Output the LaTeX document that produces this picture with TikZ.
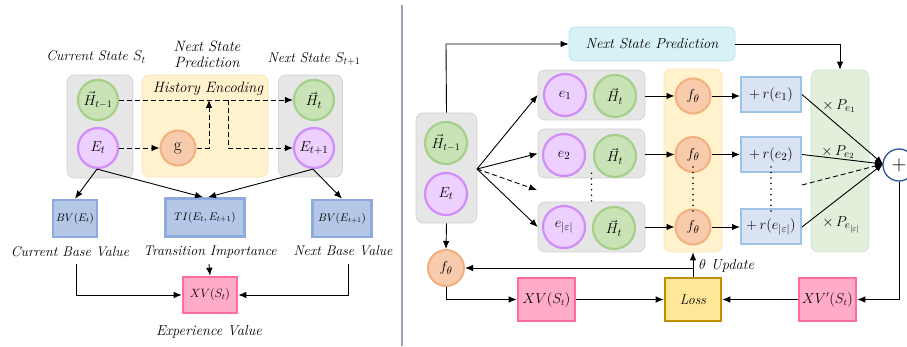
\documentclass[tikz,border=0pt]{standalone}
\usepackage{amsmath}
\usetikzlibrary{arrows.meta}
\definecolor{grayfill}{HTML}{E6E6E6}
\definecolor{grayline}{HTML}{D2D2D2}
\definecolor{yelfill}{HTML}{FFF2CC}
\definecolor{yelline}{HTML}{F7E4B0}
\definecolor{grnfill}{HTML}{C9E3B6}
\definecolor{grnline}{HTML}{A6D08A}
\definecolor{purfill}{HTML}{EDD0FF}
\definecolor{purline}{HTML}{D08CFA}
\definecolor{orfill}{HTML}{F8CBAD}
\definecolor{orline}{HTML}{F2B07F}
\definecolor{bvfill}{HTML}{B4C7E7}
\definecolor{bvline}{HTML}{8FAADC}
\definecolor{pkfill}{HTML}{FFABC9}
\definecolor{pkline}{HTML}{FF6C9C}
\definecolor{rfill}{HTML}{DAE3F3}
\definecolor{rline}{HTML}{9DC3E6}
\definecolor{cyfill}{HTML}{D7F2F7}
\definecolor{cyline}{HTML}{BEE3EC}
\definecolor{gcfill}{HTML}{E2EFDA}
\definecolor{gcline}{HTML}{D3E5C8}
\definecolor{lsfill}{HTML}{FFE699}
\definecolor{lsline}{HTML}{BF9000}
\definecolor{divider}{HTML}{99A3B5}
\definecolor{plusline}{HTML}{2F5597}
\begin{document}
\begin{tikzpicture}[x=1pt,y=-1pt,
  font=\fontsize{13}{15}\selectfont,
  graybox/.style={rectangle, rounded corners=7pt, fill=grayfill, draw=grayline, line width=0.6pt, inner sep=0pt},
  yelbox/.style={rectangle, rounded corners=7pt, fill=yelfill, draw=yelline, line width=0.6pt, inner sep=0pt},
  gcbox/.style={rectangle, rounded corners=7pt, fill=gcfill, draw=gcline, line width=0.6pt, inner sep=0pt},
  cybox/.style={rectangle, rounded corners=6pt, fill=cyfill, draw=cyline, line width=0.8pt, inner sep=0pt},
  gcirc/.style={circle, fill=grnfill, draw=grnline, line width=2.2pt, inner sep=0pt},
  pcirc/.style={circle, fill=purfill, draw=purline, line width=2.2pt, inner sep=0pt},
  ocirc/.style={circle, fill=orfill, draw=orline, line width=2pt, inner sep=0pt},
  bvbox/.style={rectangle, fill=bvfill, draw=bvline, line width=2.6pt, inner sep=0pt},
  pkbox/.style={rectangle, fill=pkfill, draw=pkline, line width=2.6pt, inner sep=0pt},
  rbox/.style={rectangle, fill=rfill, draw=rline, line width=2pt, inner sep=0pt},
  lossbox/.style={rectangle, fill=lsfill, draw=lsline, line width=2.6pt, inner sep=0pt},
  lbl/.style={inner sep=0pt, font=\fontsize{14}{16}\selectfont\itshape},
  big/.style={font=\fontsize{15}{16}\selectfont},
  arr/.style={-{Latex[length=8pt,width=6.5pt]}, line width=0.9pt},
  darr/.style={arr, dash pattern=on 5pt off 3pt},
  dotsty/.style={line width=1.6pt, line cap=round, dash pattern=on 0pt off 5.5pt},
]
\useasboundingbox (0,0) rectangle (907,347);
% divider
\draw[line width=2pt, divider] (402,5) -- (402,346);

% ================= LEFT PANEL =================
\node[lbl] (tcs) at (96,57) {Current State $S_t$};
\node[lbl, align=center, font=\fontsize{15}{16}\selectfont\itshape] (tnsp) at (207,54) {Next State\\Prediction};
\node[lbl] (tns) at (314,59) {Next State $S_{t+1}$};

\node[graybox, minimum width=66pt, minimum height=103pt] (gl) at (100,126.5) {};
\node[yelbox, minimum width=126pt, minimum height=102pt] (yl) at (205,126) {};
\node[graybox, minimum width=64pt, minimum height=102pt] (gr) at (310.5,126) {};
\node[lbl, font=\fontsize{15}{16}\selectfont\itshape] (he) at (208,89) {History Encoding};

\node[gcirc, minimum size=40pt, font=\fontsize{14.5}{16}\selectfont] (Hm) at (98,100) {$\vec{H}_{t-1}$};
\node[pcirc, minimum size=40pt, big] (Et) at (98,148) {$E_t$};
\node[ocirc, minimum size=35pt] (g) at (178,148) {\fontsize{19}{19}\selectfont$\mathrm{g}$};
\node[gcirc, minimum size=40pt, big] (Ht) at (314,100) {$\vec{H}_t$};
\node[pcirc, minimum size=40pt, big] (Et1) at (314,148) {$E_{t+1}$};

\coordinate (j1) at (209,100);
\coordinate (j2) at (228,100);
\draw[darr] (Hm) -- (Ht);
\draw[darr] (Et) -- (g);
\draw[darr] (g.east) -| (j1);
\draw[darr] (j2) |- (Et1);

\node[bvbox, minimum width=44pt, minimum height=37pt, font=\fontsize{10.5}{12}\selectfont] (bv1) at (75,218.5) {$BV(E_t)$};
\node[bvbox, minimum width=79pt, minimum height=38pt, font=\fontsize{11}{12}\selectfont] (ti) at (205,217.5) {$TI(E_t,E_{t+1})$};
\node[bvbox, minimum width=59pt, minimum height=37pt, font=\fontsize{10.5}{12}\selectfont] (bv2) at (342,218.5) {$BV(E_{t+1})$};

\draw[arr] ([xshift=-1pt]Et.south) -- (bv1.north);
\draw[arr] ([xshift=-1pt]Et.south) -- ([xshift=-2pt]ti.north);
\draw[arr] ([xshift=-1pt]Et1.south) -- ([xshift=3pt]ti.north);
\draw[arr] ([xshift=-1pt]Et1.south) -- (bv2.north);

\node[lbl] (lcbv) at (70,252) {Current Base Value};
\node[lbl] (lti) at (210,252) {Transition Importance};
\node[lbl] (lnbv) at (343,251) {Next Base Value};

\node[pkbox, minimum width=54pt, minimum height=36pt, font=\fontsize{12}{13}\selectfont] (xv) at (210,295) {$XV(S_t)$};
\node[lbl, font=\fontsize{14.5}{16}\selectfont\itshape] (lev) at (209,332) {Experience Value};

\coordinate (s1) at (76,264);
\coordinate (s2) at (348,264);
\coordinate (s3) at (209,264);
\draw[arr] (s1) |- (xv.west);
\draw[arr] (s2) |- (xv.east);
\draw[arr] (s3) -- (xv.north);

% ================= RIGHT PANEL =================
\node[cybox, minimum width=166pt, minimum height=34pt] (nsp) at (652,44) {\fontsize{14.5}{16}\selectfont\itshape Next State Prediction};

\node[graybox, minimum width=61pt, minimum height=110pt] (gL) at (446.5,168) {};
\node[gcirc, minimum size=42pt, font=\fontsize{14.5}{16}\selectfont] (rH) at (446,143) {$\vec{H}_{t-1}$};
\node[pcirc, minimum size=42pt, big] (rE) at (446,194) {$E_t$};
\coordinate (fan) at (477,169);

\node[graybox, minimum width=107pt, minimum height=50pt] (g1) at (591.5,95) {};
\node[graybox, minimum width=107pt, minimum height=49pt] (g2) at (591.5,153.5) {};
\node[graybox, minimum width=107pt, minimum height=50pt] (g3) at (591.5,227) {};
\node[pcirc, minimum size=42pt, big] (e1) at (565,95) {$e_1$};
\node[gcirc, minimum size=42pt, big] (h1) at (615,96) {$\vec{H}_t$};
\node[pcirc, minimum size=42pt, big] (e2) at (564,155) {$e_2$};
\node[gcirc, minimum size=42pt, big] (h2) at (615,156) {$\vec{H}_t$};
\node[pcirc, minimum size=42pt, big] (e3) at (564,227) {$e_{|\varepsilon|}$};
\node[gcirc, minimum size=42pt, big] (h3) at (614,228) {$\vec{H}_t$};
\coordinate (gd) at (537,190);

\node[yelbox, minimum width=58pt, minimum height=183pt] (yc) at (693,160.5) {};
\node[ocirc, minimum size=35pt, big] (f1) at (693,96) {$f_\theta$};
\node[ocirc, minimum size=35pt, big] (f2) at (693,154.5) {$f_\theta$};
\node[ocirc, minimum size=35pt, big] (f3) at (693,227) {$f_\theta$};

\node[rbox, minimum width=60pt, minimum height=35pt, font=\fontsize{15}{16}\selectfont] (r1) at (771,94.5) {$+\,r(e_1)$};
\node[rbox, minimum width=60pt, minimum height=35pt, font=\fontsize{15}{16}\selectfont] (r2) at (771,154.5) {$+\,r(e_2)$};
\node[rbox, minimum width=60pt, minimum height=35pt, font=\fontsize{15}{16}\selectfont] (r3) at (771,227) {$+\,r(e_{|\varepsilon|})$};

\node[gcbox, minimum width=58pt, minimum height=182pt] (gc) at (840,161) {};
\node[inner sep=0pt, font=\fontsize{15.5}{16}\selectfont] (p1) at (839,106) {$\times\, P_{e_1}$};
\node[inner sep=0pt, font=\fontsize{15.5}{16}\selectfont] (p2) at (838,152) {$\times\, P_{e_2}$};
\node[inner sep=0pt, font=\fontsize{15.5}{16}\selectfont] (p3) at (841,225) {$\times\, P_{e_{|\varepsilon|}}$};

\node[circle, draw=plusline, fill=white, line width=1.3pt, minimum size=32pt, inner sep=0pt, font=\fontsize{22}{22}\selectfont] (plus) at (899,165) {$+$};
\coordinate (dd) at (802,185);

\node[ocirc, minimum size=36pt, big] (fL) at (446,268) {$f_\theta$};
\node[pkbox, minimum width=57pt, minimum height=43pt, font=\fontsize{13.5}{15}\selectfont] (xvr) at (546.5,299.5) {$XV(S_t)$};
\node[lossbox, minimum width=56pt, minimum height=43pt, font=\fontsize{14}{15}\selectfont\itshape] (loss) at (693,299.5) {Loss};
\node[pkbox, minimum width=57pt, minimum height=43pt, font=\fontsize{13.5}{15}\selectfont] (xvp) at (827.5,299.5) {$XV'(S_t)$};

% connectors right
\coordinate (tl) at (446,44);
\draw[arr] (gL.north) -- (tl) -- (nsp.west);
\draw[arr] (nsp.east) -| (gc.north);

\draw[arr] (fan) -- (g1.west);
\draw[arr] (fan) -- (g2.west);
\draw[darr] (fan) -- (gd);
\draw[arr] (fan) -- (g3.west);

\draw[arr] (g1.east |- f1) -- (f1);
\draw[arr] (g2.east |- f2) -- (f2);
\draw[arr] (g3.east |- f3) -- (f3);
\draw[arr] (f1) -- (r1.west |- f1);
\draw[arr] (f2) -- (r2.west |- f2);
\draw[arr] (f3) -- (r3.west |- f3);

\draw[dotsty] ([yshift=5pt]g2.south) -- ([yshift=-3pt]g3.north);
\draw[dotsty] ([yshift=6pt]f2.south) -- ([yshift=-3pt]f3.north);
\draw[dotsty] ([yshift=6pt]r2.south) -- ([yshift=-3pt]r3.north);

\coordinate (pin) at (883,164);
\draw[arr] (r1.east) -- (pin);
\draw[arr] (r2.east) -- (pin);
\draw[darr] (dd) -- (pin);
\draw[arr] (r3.east) -- (pin);

\draw[arr] (plus.south) |- (xvp.east);
\draw[arr] (xvp.west) -- (loss.east);
\draw[arr] (xvr.east) -- (loss.west);
\draw[arr] (gL.south) -- (fL.north);
\draw[arr] (fL.south) |- (xvr.west);
\draw[arr] (loss.north) -- (yc.south);
\coordinate (tu) at (693,268);
\draw[arr] (tu) -- (fL.east);
\node[lbl, anchor=west, font=\fontsize{14.5}{16}\selectfont\itshape] (thu) at (699,266) {$\theta$ Update};
\end{tikzpicture}
\end{document}
